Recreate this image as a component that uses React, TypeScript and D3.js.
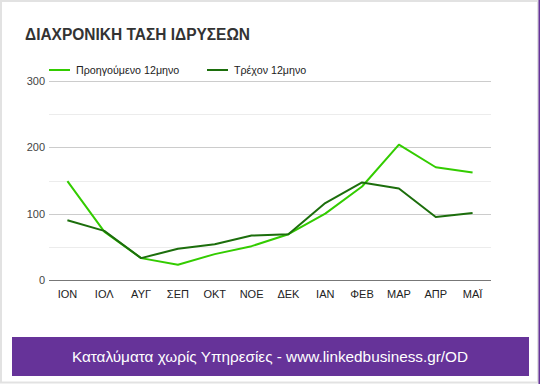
import React from "react";
import * as d3 from "d3";

const months = ["ΙΟΝ", "ΙΟΛ", "ΑΥΓ", "ΣΕΠ", "ΟΚΤ", "ΝΟΕ", "ΔΕΚ", "ΙΑΝ", "ΦΕΒ", "ΜΑΡ", "ΑΠΡ", "ΜΑΪ"];
const previous = [149, 73, 33, 23, 39, 51, 69, 100, 141, 204, 170, 162];
const current = [90, 74, 33, 47, 54, 67, 69, 116, 147, 138, 95, 101];
const majorTicks = [0, 100, 200, 300];
const minorTicks = [50, 150, 250];
const seriesNames = ["Προηγούμενο 12μηνο", "Τρέχον 12μηνο"];
const seriesColors = ["#33cc00", "#1c6e0c"];

export default function App() {
  const W = 540, H = 384;
  const left = 49, right = 491, top = 81, bottom = 280;
  const x = d3.scaleBand<string>().domain(months).range([left, right]);
  const y = d3.scaleLinear().domain([0, 300]).range([bottom, top]);
  const line = d3
    .line<number>()
    .x((_, i) => (x(months[i]) as number) + x.bandwidth() / 2)
    .y((d) => y(d));
  const font = "Arial, 'Liberation Sans', sans-serif";
  const series = [previous, current];
  const legendX = [49, 207];

  return (
    <div style={{ position: "fixed", left: 0, top: 0, width: W, height: H }}>
      <svg width={W} height={H} style={{ display: "block" }} fontFamily={font}>
        <rect x={0} y={0} width={W} height={H} fill="#ffffff" />
        <rect x={1} y={1} width={W - 3} height={H - 2.5} fill="none" stroke="#e2e2e2" strokeWidth={2} />
        <rect x={538.5} y={0} width={1.5} height={H} fill="#663399" />
        <text x={25} y={40} fontSize={16} fontWeight="bold" fill="#333" textLength={225} lengthAdjust="spacingAndGlyphs">
          ΔΙΑΧΡΟΝΙΚΗ ΤΑΣΗ ΙΔΡΥΣΕΩΝ
        </text>
        {seriesNames.map((n, i) => (
          <g key={n}>
            <line x1={legendX[i]} x2={legendX[i] + 21} y1={70} y2={70} stroke={seriesColors[i]} strokeWidth={2} />
            <text x={legendX[i] + 27} y={74} fontSize={10.7} fill="#222">
              {n}
            </text>
          </g>
        ))}
        {minorTicks.map((t) => (
          <line key={"m" + t} x1={left} x2={right} y1={Math.round(y(t)) + 0.5} y2={Math.round(y(t)) + 0.5} stroke="#ececec" />
        ))}
        {majorTicks.map((t) => (
          <g key={t}>
            <line
              x1={left}
              x2={right}
              y1={Math.round(y(t)) + 0.5}
              y2={Math.round(y(t)) + 0.5}
              stroke={t === 0 ? "#777" : "#cccccc"}
              strokeWidth={t === 0 ? 1.2 : 1}
            />
            <text x={45} y={y(t) + 4} fontSize={11} fill="#444" textAnchor="end">
              {t}
            </text>
          </g>
        ))}
        {months.map((m) => (
          <text key={m} x={(x(m) as number) + x.bandwidth() / 2} y={298} fontSize={11} fill="#222" textAnchor="middle">
            {m}
          </text>
        ))}
        {series.map((s, i) => (
          <path key={i} d={line(s) as string} fill="none" stroke={seriesColors[i]} strokeWidth={2} strokeLinejoin="round" />
        ))}
        <rect x={12} y={337} width={517} height={39} fill="#663399" />
        <text x={270} y={362} fontSize={15.3} fill="#ffffff" textAnchor="middle">
          Καταλύματα χωρίς Υπηρεσίες - www.linkedbusiness.gr/OD
        </text>
      </svg>
    </div>
  );
}
